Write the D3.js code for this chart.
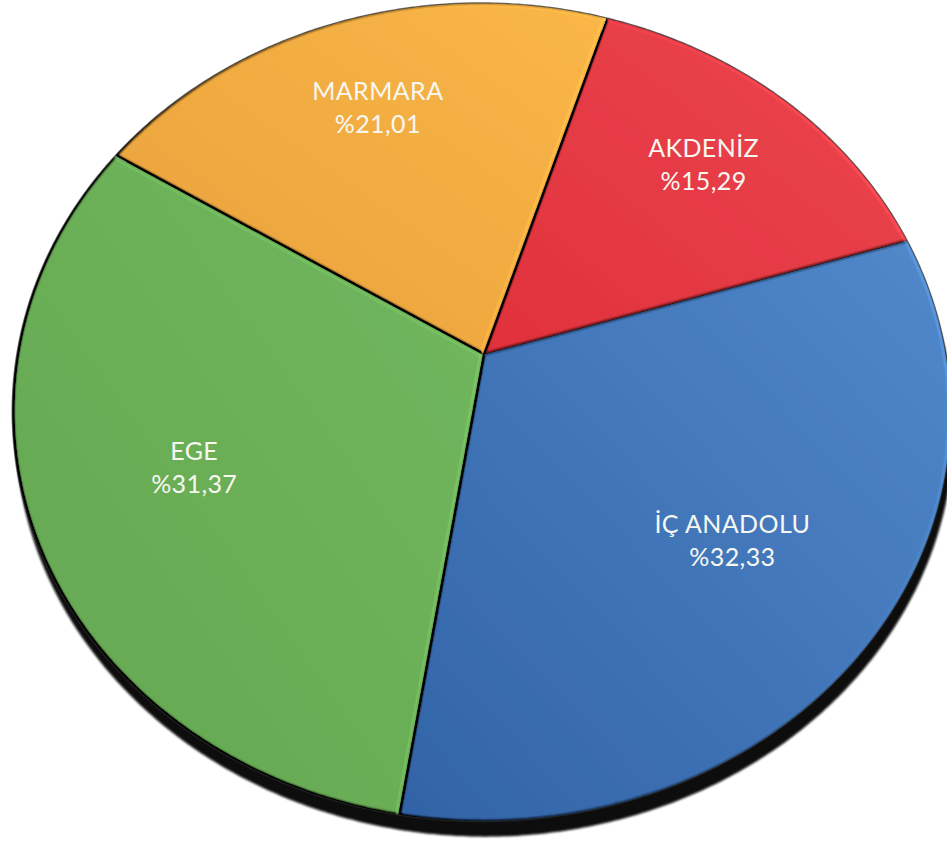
<!DOCTYPE html>
<html><head><meta charset="utf-8">
<script src="https://cdn.jsdelivr.net/npm/d3@7"></script>
<style>html,body{margin:0;padding:0;background:#fff;}svg{display:block}</style>
</head><body>
<svg id="chart" width="947" height="848"></svg>
<script>
const categories = ["AKDENİZ","İÇ ANADOLU","EGE","MARMARA"];
const values = [15.29, 32.33, 31.37, 21.01];
const valueLabels = ["%15,29","%32,33","%31,37","%21,01"];
const colorsDark = ["#E0313C","#3263A6","#64A651","#E8A03C"];
const colorsLight = ["#EC4750","#5189CB","#72B85E","#FAB747"];

// perspective projection of the unit disc (homography)
const P = [423.825, -205.676, 482.934, 107.996, 334.274, 354.539, -0.03966, -0.13530];
function project(u,v){const w=P[6]*u+P[7]*v+1;return[(P[0]*u+P[1]*v+P[2])/w,(P[3]*u+P[4]*v+P[5])/w];}

const svg = d3.select("#chart");
const pie = d3.pie().sort(null).value(d=>d);
const arcs = pie(values);
const line=d3.line();
const polar=(r,t)=>project(r*Math.sin(t),-r*Math.cos(t));
function slicePath(a){const n=Math.max(8,Math.ceil((a.endAngle-a.startAngle)/(2*Math.PI)*720));const pts=[project(0,0)];
 for(let i=0;i<=n;i++){pts.push(polar(1,a.startAngle+(a.endAngle-a.startAngle)*i/n));}return line(pts)+"Z";}
const outline=line(d3.range(0,721).map(i=>polar(1,i/720*2*Math.PI)))+"Z";

const defs=svg.append("defs");
arcs.forEach((a,i)=>{const gr=defs.append("linearGradient").attr("id","g"+i).attr("x1",0).attr("y1",1).attr("x2",1).attr("y2",0);
 gr.append("stop").attr("offset",0).attr("stop-color",colorsDark[i]);gr.append("stop").attr("offset",1).attr("stop-color",colorsLight[i]);});
const bev=defs.append("filter").attr("id","bevel").attr("x","-5%").attr("y","-5%").attr("width","110%").attr("height","110%");
bev.append("feGaussianBlur").attr("in","SourceAlpha").attr("stdDeviation",1.4).attr("result","blur");
const dl=bev.append("feDiffuseLighting").attr("in","blur").attr("surfaceScale",6).attr("diffuseConstant",1).attr("lighting-color","#fff").attr("result","diff");
dl.append("feDistantLight").attr("azimuth",340).attr("elevation",50);
bev.append("feComposite").attr("in","SourceGraphic").attr("in2","diff").attr("operator","arithmetic").attr("k1",1/Math.sin(50*Math.PI/180)).attr("k2",0).attr("k3",0).attr("k4",0).attr("result","lit");
bev.append("feComposite").attr("in","lit").attr("in2","SourceAlpha").attr("operator","in");
defs.append("filter").attr("id","soft").append("feGaussianBlur").attr("stdDeviation",1.2);
defs.append("filter").attr("id","soft2").append("feGaussianBlur").attr("stdDeviation",0.6);

svg.append("path").attr("d",outline).attr("transform","translate(3,15)").attr("fill","#080808").attr("filter","url(#soft)");
svg.append("g").selectAll("path").data(arcs).join("path").attr("d",d=>slicePath(d)).attr("fill",(d,i)=>`url(#g${i})`).attr("filter","url(#bevel)");
svg.append("g").attr("filter","url(#soft2)").selectAll("path").data(arcs).join("path")
 .attr("d",d=>line([project(0,0),polar(1,d.startAngle)])).attr("stroke","#1e1e1e").attr("stroke-opacity",0.15).attr("stroke-width",1.2);
svg.append("path").attr("d",outline).attr("fill","none").attr("stroke","#2b2b2b").attr("stroke-opacity",0.7).attr("stroke-width",1.2);

// labels sit on each slice's mid-angle ray, on a label ring raised slightly toward the far side
const labelR0 = 0.683, labelR1 = 0.041;
const lab=svg.append("g").attr("font-family","Lato, sans-serif").attr("font-size",25).attr("letter-spacing",0.4).attr("fill","#f7f7f2").attr("text-anchor","middle");
arcs.forEach((a,i)=>{const m=(a.startAngle+a.endAngle)/2;const L=polar(labelR0+labelR1*Math.cos(m),m);
 lab.append("text").attr("x",L[0]).attr("y",L[1]-8).text(categories[i]);
 lab.append("text").attr("x",L[0]).attr("y",L[1]+25).text(valueLabels[i]);});
</script>
</body></html>
